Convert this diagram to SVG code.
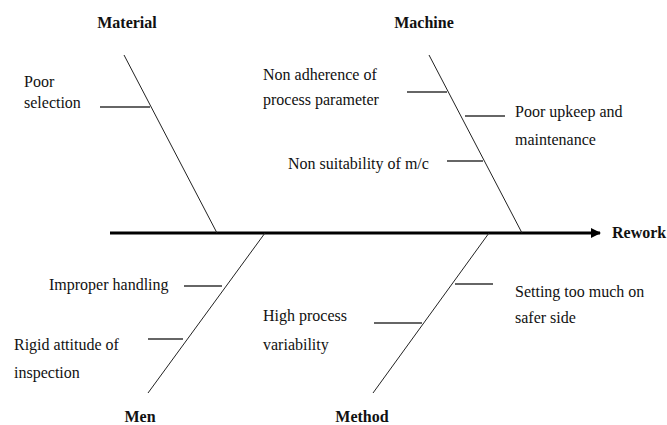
<svg xmlns="http://www.w3.org/2000/svg" width="667" height="425" viewBox="0 0 667 425">
<style>
text{font-family:'Liberation Serif','Times New Roman',Times,'DejaVu Serif',serif;font-size:16px;fill:#111}
.b{font-weight:bold}
.m{text-anchor:middle}
.br{stroke:#222;stroke-width:1;fill:none}
.sub{stroke:#333;stroke-width:1.6;fill:none}
</style>
<defs>
<marker id="ah" viewBox="0 0 10 10" refX="9" refY="5" markerWidth="10" markerHeight="10" markerUnits="userSpaceOnUse" orient="auto">
<path d="M0,0 L10,5 L0,10 Z" fill="#000"/>
</marker>
</defs>
<rect width="667" height="425" fill="#fff"/>
<g id="connectors">
<line x1="110" y1="233" x2="600" y2="233" stroke="#000" stroke-width="3" marker-end="url(#ah)"/>
<line class="br" x1="124" y1="55" x2="217" y2="233"/>
<line class="br" x1="429" y1="55" x2="522" y2="233"/>
<line class="br" x1="265" y1="233" x2="148" y2="393"/>
<line class="br" x1="489" y1="233" x2="373" y2="393"/>
<line class="sub" x1="100" y1="107" x2="150" y2="107"/>
<line class="sub" x1="407" y1="92" x2="447" y2="92"/>
<line class="sub" x1="465" y1="116" x2="505" y2="116"/>
<line class="sub" x1="447" y1="161" x2="483" y2="161"/>
<line class="sub" x1="184" y1="286" x2="222" y2="286"/>
<line class="sub" x1="148" y1="339" x2="183" y2="339"/>
<line class="sub" x1="455" y1="284" x2="493" y2="284"/>
<line class="sub" x1="374" y1="323" x2="422" y2="323"/>
</g>
<g id="rework"><text class="b" x="612" y="238" font-family="Liberation Serif, serif">Rework</text></g>
<g id="material">
<text class="b m" x="127" y="28">Material</text>
</g>
<g id="poor-selection">
<text x="24" y="87">Poor</text>
<text x="24" y="108">selection</text>
</g>
<g id="machine">
<text class="b m" x="424" y="28">Machine</text>
</g>
<g id="non-adherence">
<text x="263" y="80">Non adherence of</text>
<text x="263" y="105">process parameter</text>
</g>
<g id="poor-upkeep">
<text x="515" y="117">Poor upkeep and</text>
<text x="515" y="145">maintenance</text>
</g>
<g id="non-suitability">
<text x="288" y="169">Non suitability of m/c</text>
</g>
<g id="men">
<text class="b m" x="140" y="422">Men</text>
</g>
<g id="improper-handling">
<text x="49" y="290">Improper handling</text>
</g>
<g id="rigid-attitude">
<text x="14" y="350">Rigid attitude of</text>
<text x="14" y="378">inspection</text>
</g>
<g id="method">
<text class="b m" x="362" y="422">Method</text>
</g>
<g id="setting-too-much">
<text x="515" y="297">Setting too much on</text>
<text x="515" y="323">safer side</text>
</g>
<g id="high-process">
<text x="263" y="321">High process</text>
<text x="263" y="350">variability</text>
</g>
</svg>
